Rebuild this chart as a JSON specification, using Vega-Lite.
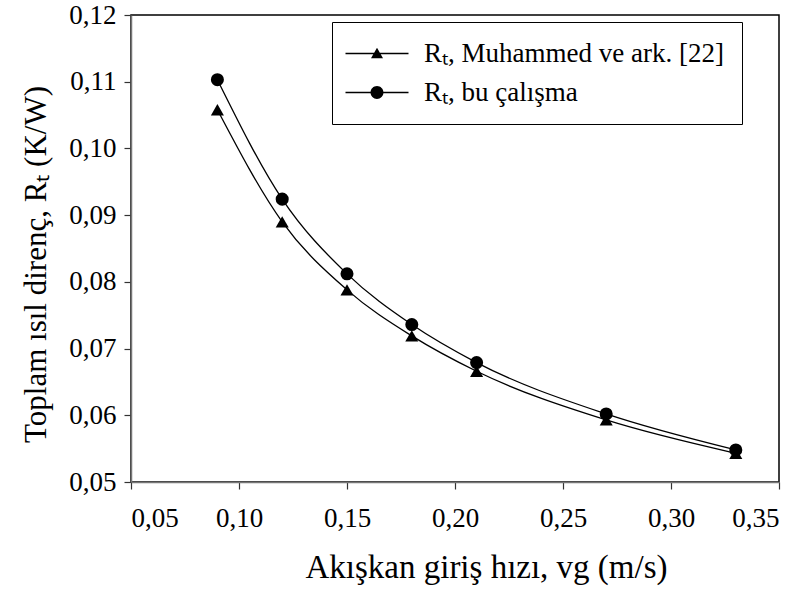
{
  "$schema": "https://vega.github.io/schema/vega-lite/v6.json",
  "width": 648,
  "height": 467,
  "autosize": {"type": "none"},
  "padding": {"left": 131, "top": 15, "right": 25, "bottom": 107},
  "background": "white",
  "config": {
    "view": {"stroke": "black", "strokeWidth": 1.5},
    "font": "Liberation Serif",
    "axis": {
      "grid": false,
      "domainColor": "#777777",
      "domainWidth": 1.5,
      "tickColor": "#333333",
      "tickSize": 7,
      "tickWidth": 1.2,
      "labelFont": "Liberation Serif",
      "labelFontSize": 27,
      "labelColor": "black",
      "titleFont": "Liberation Serif",
      "titleFontSize": 33,
      "titleFontWeight": "normal",
      "titleColor": "black"
    }
  },
  "data": {
    "values": [
      {"v": 0.09, "R": 0.1058, "series": "Rₜ, Muhammed ve ark. [22]"},
      {"v": 0.12, "R": 0.0890, "series": "Rₜ, Muhammed ve ark. [22]"},
      {"v": 0.15, "R": 0.0788, "series": "Rₜ, Muhammed ve ark. [22]"},
      {"v": 0.18, "R": 0.0719, "series": "Rₜ, Muhammed ve ark. [22]"},
      {"v": 0.21, "R": 0.0666, "series": "Rₜ, Muhammed ve ark. [22]"},
      {"v": 0.27, "R": 0.0593, "series": "Rₜ, Muhammed ve ark. [22]"},
      {"v": 0.33, "R": 0.0543, "series": "Rₜ, Muhammed ve ark. [22]"},
      {"v": 0.09, "R": 0.1103, "series": "Rₜ, bu çalışma"},
      {"v": 0.12, "R": 0.0924, "series": "Rₜ, bu çalışma"},
      {"v": 0.15, "R": 0.0812, "series": "Rₜ, bu çalışma"},
      {"v": 0.18, "R": 0.0736, "series": "Rₜ, bu çalışma"},
      {"v": 0.21, "R": 0.0679, "series": "Rₜ, bu çalışma"},
      {"v": 0.27, "R": 0.0602, "series": "Rₜ, bu çalışma"},
      {"v": 0.33, "R": 0.0548, "series": "Rₜ, bu çalışma"}
    ]
  },
  "encoding": {
    "x": {
      "field": "v", "type": "quantitative",
      "scale": {"domain": [0.05, 0.35], "nice": false, "zero": false},
      "axis": {
        "values": [0.05, 0.1, 0.15, 0.2, 0.25, 0.3, 0.35],
        "labelExpr": "replace(format(datum.value, '.2f'), '.', ',')",
        "labelPadding": 16,
        "title": "Akışkan giriş hızı, vg (m/s)",
        "titlePadding": 20,
        "titleX": 355
      }
    },
    "y": {
      "field": "R", "type": "quantitative",
      "scale": {"domain": [0.05, 0.12], "nice": false, "zero": false},
      "axis": {
        "values": [0.05, 0.06, 0.07, 0.08, 0.09, 0.1, 0.11, 0.12],
        "labelExpr": "replace(format(datum.value, '.2f'), '.', ',')",
        "labelPadding": 8,
        "title": "Toplam ısıl direnç, Rₜ (K/W)",
        "titleFontSize": 31,
        "titlePadding": 16,
        "titleY": 249
      }
    }
  },
  "resolve": {"scale": {"shape": "independent"}, "legend": {"shape": "independent"}},
  "layer": [
    {
      "mark": {"type": "line", "interpolate": "monotone", "color": "black", "strokeWidth": 1.3},
      "encoding": {"detail": {"field": "series"}}
    },
    {
      "mark": {"type": "point", "filled": true, "fill": "black", "size": 0},
      "encoding": {
        "shape": {
          "field": "series", "type": "nominal",
          "scale": {
            "domain": ["Rₜ, Muhammed ve ark. [22]", "Rₜ, bu çalışma"],
            "range": [
              "M-3,-0.11H7.5V0.11H-3ZM1.25,0.8L2.25,-0.95L3.25,0.8Z",
              "M-3,-0.11H7.5V0.11H-3ZM1.17,0A1.08,1.08 0 1,1 3.33,0A1.08,1.08 0 1,1 1.17,0Z"
            ]
          },
          "legend": {
            "title": null,
            "orient": "none",
            "legendX": 201,
            "legendY": 7,
            "strokeColor": "black",
            "fillColor": "white",
            "padding": 18,
            "symbolSize": 144,
            "symbolOpacity": 1,
            "symbolFillColor": "black",
            "labelFont": "Liberation Serif",
            "labelFontSize": 27,
            "labelColor": "black",
            "labelOffset": 47,
            "labelLimit": 500,
            "rowPadding": 11
          }
        }
      }
    },
    {
      "mark": {"type": "point", "filled": true, "color": "black", "opacity": 1, "size": 170},
      "encoding": {
        "shape": {
          "field": "series", "type": "nominal",
          "scale": {
            "domain": ["Rₜ, Muhammed ve ark. [22]", "Rₜ, bu çalışma"],
            "range": ["triangle-up", "circle"]
          },
          "legend": null
        }
      }
    }
  ]
}
